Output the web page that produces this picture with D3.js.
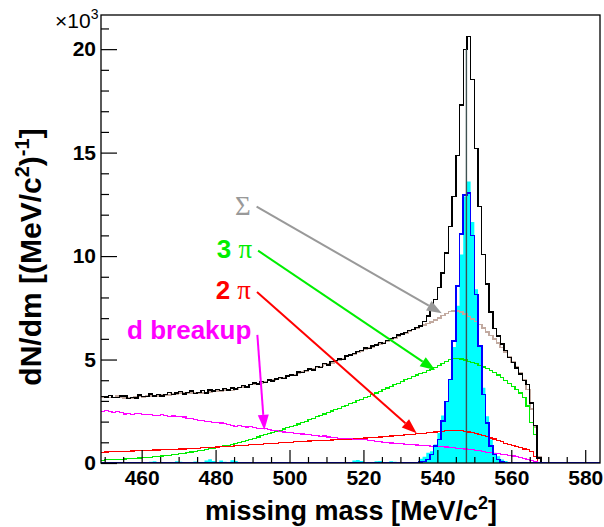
<!DOCTYPE html>
<html><head><meta charset="utf-8">
<script src="https://cdn.jsdelivr.net/npm/d3@7"></script>
<style>body{margin:0;background:#fff}svg{display:block}</style>
</head><body>
<svg id="c" width="604" height="527"></svg>
<script>
// ---------- data (bins of 1 MeV/c^2 starting at 449; values in units of 10^3) ----------
const massStart = 449;
const xTickLabels = [460, 480, 500, 520, 540, 560, 580];
const yTickLabels = [0, 5, 10, 15, 20];
const etaMass = 547.86;

const totalCounts = [
 3.21,3.18,3.25,3.16,3.17,3.23,3.24,3.13,3.16,3.14,
 3.28,3.21,3.20,3.33,3.23,3.30,3.24,3.32,3.41,3.30,
 3.38,3.45,3.33,3.40,3.47,3.36,3.42,3.50,3.39,3.52,
 3.47,3.55,3.50,3.60,3.52,3.63,3.58,3.66,3.75,3.68,
 3.78,3.86,3.82,3.94,3.90,4.02,3.97,4.05,4.14,4.08,
 4.20,4.26,4.22,4.40,4.36,4.48,4.55,4.50,4.66,4.62,
 4.80,4.74,4.90,4.95,5.02,5.00,5.17,5.22,5.30,5.38,
 5.45,5.56,5.52,5.66,5.70,5.82,5.78,5.93,6.02,6.06,
 6.18,6.24,6.30,6.40,6.46,6.55,6.62,6.85,7.10,7.40,
 7.90,8.47,9.18,10.15,11.43,12.88,14.86,17.31,19.97,20.61,
 18.52,15.19,12.40,10.07,8.65,7.30,6.50,6.13,5.75,5.45,
 5.10,4.85,4.60,4.30,4.00,3.80,2.90,1.80,0.25,0
];
const sigmaSum = [
 3.16,3.21,3.17,3.16,3.23,3.19,3.13,3.15,3.13,3.21,
 3.22,3.19,3.24,3.24,3.21,3.25,3.31,3.29,3.30,3.33,
 3.34,3.37,3.37,3.35,3.37,3.37,3.37,3.39,3.41,3.43,
 3.45,3.47,3.49,3.53,3.52,3.51,3.56,3.65,3.66,3.70,
 3.80,3.81,3.84,3.88,3.94,3.98,4.00,4.04,4.09,4.13,
 4.18,4.23,4.27,4.33,4.39,4.45,4.51,4.56,4.63,4.67,
 4.76,4.80,4.84,4.93,4.97,5.04,5.14,5.19,5.27,5.34,
 5.41,5.48,5.55,5.60,5.68,5.75,5.81,5.88,5.97,6.04,
 6.13,6.21,6.29,6.37,6.45,6.53,6.60,6.67,6.75,6.82,
 6.91,7.02,7.12,7.23,7.32,7.35,7.34,7.29,7.20,7.08,
 6.97,6.84,6.70,6.53,6.34,6.17,5.99,5.80,5.58,5.35,
 5.12,4.88,4.63,4.36,4.04,3.55,2.61,1.73,0.30,0
];
const threePi = [
 0.14,0.15,0.16,0.17,0.18,0.18,0.19,0.20,0.21,0.22,
 0.24,0.25,0.27,0.28,0.30,0.32,0.34,0.36,0.38,0.40,
 0.42,0.45,0.47,0.50,0.53,0.56,0.59,0.62,0.65,0.69,
 0.72,0.75,0.78,0.82,0.86,0.90,0.95,1.00,1.05,1.10,
 1.15,1.20,1.26,1.31,1.36,1.41,1.47,1.52,1.58,1.64,
 1.70,1.76,1.82,1.88,1.95,2.02,2.09,2.16,2.23,2.30,
 2.37,2.44,2.51,2.58,2.65,2.72,2.79,2.86,2.94,3.01,
 3.08,3.15,3.23,3.30,3.38,3.46,3.54,3.62,3.70,3.78,
 3.86,3.94,4.02,4.10,4.18,4.25,4.32,4.39,4.46,4.53,
 4.60,4.70,4.80,4.90,5.00,5.05,5.05,5.03,4.98,4.92,
 4.86,4.80,4.73,4.64,4.55,4.46,4.36,4.25,4.12,3.98,
 3.85,3.70,3.55,3.38,3.15,2.75,1.95,1.38,0,0
];
const twoPi = [
 0.52,0.53,0.54,0.54,0.55,0.56,0.57,0.57,0.58,0.59,
 0.60,0.60,0.61,0.62,0.63,0.63,0.64,0.65,0.66,0.66,
 0.67,0.68,0.68,0.69,0.70,0.71,0.72,0.73,0.74,0.75,
 0.76,0.77,0.78,0.79,0.80,0.81,0.83,0.84,0.85,0.86,
 0.88,0.89,0.90,0.91,0.93,0.94,0.95,0.96,0.98,0.99,
 1.00,1.01,1.02,1.03,1.04,1.05,1.06,1.07,1.08,1.09,
 1.09,1.10,1.11,1.12,1.13,1.14,1.15,1.16,1.18,1.19,
 1.20,1.21,1.22,1.23,1.25,1.26,1.27,1.28,1.30,1.31,
 1.33,1.34,1.36,1.37,1.39,1.41,1.42,1.44,1.46,1.48,
 1.50,1.52,1.54,1.56,1.57,1.57,1.57,1.56,1.54,1.50,
 1.46,1.42,1.38,1.33,1.27,1.21,1.16,1.10,1.03,0.96,
 0.90,0.84,0.78,0.73,0.68,0.64,0.55,0.30,0,0
];
const dBreakup = [
 2.50,2.53,2.47,2.45,2.50,2.45,2.37,2.38,2.34,2.40,
 2.38,2.34,2.36,2.34,2.28,2.30,2.33,2.28,2.26,2.27,
 2.25,2.24,2.22,2.16,2.14,2.10,2.06,2.04,2.02,1.99,
 1.97,1.95,1.93,1.92,1.86,1.80,1.78,1.81,1.76,1.74,
 1.77,1.72,1.68,1.66,1.65,1.63,1.58,1.56,1.53,1.50,
 1.48,1.46,1.43,1.42,1.40,1.38,1.36,1.33,1.32,1.28,
 1.30,1.26,1.22,1.23,1.19,1.18,1.20,1.17,1.15,1.14,
 1.13,1.12,1.10,1.07,1.05,1.03,1.00,0.98,0.97,0.95,
 0.94,0.93,0.91,0.90,0.88,0.87,0.86,0.84,0.83,0.81,
 0.81,0.80,0.78,0.77,0.75,0.73,0.72,0.70,0.68,0.66,
 0.65,0.62,0.59,0.56,0.52,0.50,0.47,0.45,0.43,0.41,
 0.37,0.34,0.30,0.25,0.21,0.16,0.11,0.05,0,0
];
const etaSim = [
 0,0,0,0,0,0,0,0,0,0,
 0,0,0,0,0,0,0,0,0,0,
 0,0,0,0,0,0,0,0,0,0,
 0,0,0,0,0,0,0,0,0,0,
 0,0,0,0,0,0,0,0,0,0,
 0,0,0,0,0,0,0,0,0,0,
 0,0,0,0,0,0,0,0,0,0,
 0,0,0,0,0,0,0,0,0,0,
 0,0,0,0,0,0,0.04,0.08,0.17,0.41,
 0.81,1.13,2.02,2.98,4.03,5.90,8.54,11.07,12.95,13.05,
 11.00,8.14,5.64,3.31,1.94,0.81,0.41,0.17,0.05,0.03,
 0,0,0,0,0,0,0,0,0,0
];
const dataMinusBg = [
 0,0,0,0,0,0,0,0,0,0,
 0.05,0.03,0,0.06,0.08,0,0,0,0,0,
 0.09,0.06,0,0,0,0.07,0.04,0,0.12,0.18,
 0.10,0,0.12,0.06,0,0.13,0.10,0,0,0,
 0.05,0,0,0,0,0,0,0,0,0,
 0,0,0,0,0,0,0,0,0,0,
 0,0,0,0,0,0,0,0,0.12,0.15,
 0.10,0.05,0,0,0.08,0.10,0,0,0.08,0.06,
 0,0,0,0.04,0,0,0.20,0.30,0.50,0.57,
 0.89,1.45,2.30,2.95,4.05,5.60,7.60,10.07,12.88,13.60,
 11.65,8.40,5.70,3.64,2.26,1.13,0.50,0.33,0.17,0.10,
 0,0,0,0,0,0,0,0,0,0
];

// ---------- layout ----------
const svg = d3.select('#c');
const F = {l:101, r:600, t:15, b:463};
const xDomain = [449, 584];
const x = d3.scaleLinear().domain(xDomain).range([F.l, F.r]);
const y = d3.scaleLinear().domain([0, 21.65]).range([F.b, F.t]);
const SANS = "'Liberation Sans', Arial, Helvetica, sans-serif";
const SERIF = "'Liberation Serif', 'Times New Roman', serif";

svg.append('rect').attr('width',604).attr('height',527).attr('fill','#fff');
svg.append('defs').append('clipPath').attr('id','clip')
  .append('rect').attr('x',F.l).attr('y',F.t).attr('width',F.r-F.l).attr('height',F.b-F.t);

function stepLine(vals){
  let p = `M${x(massStart)},${y(vals[0])}`;
  vals.forEach((v,i)=>{ p += `V${y(v)}H${x(massStart+i+1)}`; });
  p += `V${y(0)}H${x(xDomain[1])}`;
  return p;
}
function stepArea(vals){
  let p = `M${x(massStart)},${y(0)}`;
  vals.forEach((v,i)=>{ p += `V${y(v)}H${x(massStart+i+1)}`; });
  p += `V${y(0)}Z`;
  return p;
}

const plot = svg.append('g').attr('clip-path','url(#clip)');
plot.append('path').attr('d', stepArea(dataMinusBg)).attr('fill','#00ffff').attr('stroke','none');
const series = [
  {vals: sigmaSum, color:'#c2aaa0', w:1.6},
  {vals: threePi, color:'#00ee00', w:1.2},
  {vals: twoPi, color:'#ff0000', w:1.2},
  {vals: dBreakup, color:'#ff00ff', w:1.2},
  {vals: totalCounts, color:'#000000', w:1.4},
  {vals: etaSim, color:'#0000ff', w:1.6}
];
series.forEach(s=>{
  plot.append('path').attr('d', stepLine(s.vals)).attr('fill','none')
    .attr('stroke', s.color).attr('stroke-width', s.w).attr('shape-rendering','crispEdges');
});
plot.append('line').attr('x1',x(etaMass)).attr('x2',x(etaMass)).attr('y1',y(0)).attr('y2',y(20))
  .attr('stroke','#3f5252').attr('stroke-width',1.4);

// ---------- axes ----------
const yMinor = d3.range(0, 22).filter(v=>v%5!==0);
const xMinor = d3.range(450, 585, 5).filter(v=>v%20!==0);
function styleAxis(g){ g.select('.domain').remove(); g.selectAll('line').attr('stroke','#000').attr('stroke-width',1.2); }
svg.append('g').attr('transform',`translate(${F.l},0)`)
  .call(d3.axisLeft(y).tickValues(yMinor).tickSizeInner(-8).tickSizeOuter(0).tickFormat(''))
  .call(styleAxis);
const gy = svg.append('g').attr('transform',`translate(${F.l},0)`)
  .call(d3.axisLeft(y).tickValues(yTickLabels).tickSizeInner(-16).tickSizeOuter(0).tickPadding(5).tickFormat(d3.format('d')))
  .call(styleAxis);
gy.selectAll('text').attr('font-family',SANS).attr('font-weight','bold').attr('font-size',21).attr('fill','#000');
svg.append('g').attr('transform',`translate(0,${F.b})`)
  .call(d3.axisBottom(x).tickValues(xMinor).tickSizeInner(-6).tickSizeOuter(0).tickFormat(''))
  .call(styleAxis);
const gx = svg.append('g').attr('transform',`translate(0,${F.b})`)
  .call(d3.axisBottom(x).tickValues(xTickLabels).tickSizeInner(-13).tickSizeOuter(0).tickPadding(7).tickFormat(d3.format('d')))
  .call(styleAxis);
gx.selectAll('text').attr('font-family',SANS).attr('font-weight','bold').attr('font-size',21).attr('fill','#000');

svg.append('rect').attr('x',F.l).attr('y',F.t).attr('width',F.r-F.l).attr('height',F.b-F.t)
  .attr('fill','none').attr('stroke','#000').attr('stroke-width',1.3);

// exponent label
const ex = svg.append('text').attr('x',55).attr('y',28).attr('font-family',SANS).attr('font-size',21).attr('fill','#000');
ex.append('tspan').text('\u00d710');
ex.append('tspan').attr('dy',-9).attr('font-size',14).text('3');

// axis titles
const xt = svg.append('text').attr('x',351).attr('y',520).attr('text-anchor','middle')
  .attr('font-family',SANS).attr('font-weight','bold').attr('font-size',27).attr('fill','#000');
xt.append('tspan').text('missing mass [MeV/c');
xt.append('tspan').attr('dy',-11).attr('font-size',18).text('2');
xt.append('tspan').attr('dy',11).text(']');

const yt = svg.append('text').attr('transform','translate(41,257) rotate(-90)').attr('text-anchor','middle')
  .attr('font-family',SANS).attr('font-weight','bold').attr('font-size',30).attr('fill','#000');
yt.append('tspan').text('dN/dm [(MeV/c');
yt.append('tspan').attr('dy',-12).attr('font-size',20).text('2');
yt.append('tspan').attr('dy',12).text(')');
yt.append('tspan').attr('dy',-12).attr('font-size',20).text('-1');
yt.append('tspan').attr('dy',12).text(']');

// ---------- annotations (arrows in data coordinates) ----------
const annotations = [
  {from:[491.1,12.39], to:[541.2,7.24], color:'#999999', label:[{t:'\u03a3', serif:true}], dy:8},
  {from:[491.5,10.26], to:[539.4,4.49], color:'#00ee00', label:[{t:'3 ', serif:false},{t:'\u03c0', serif:true}], dy:7},
  {from:[491.2,8.26], to:[534.4,1.44], color:'#ff0000', label:[{t:'2 ', serif:false},{t:'\u03c0', serif:true}], dy:7},
  {from:[491.3,6.19], to:[493.2,1.60], color:'#ff00ff', label:[{t:'d breakup', serif:false}], dy:4}
];
annotations.forEach(a=>{
  const x1=x(a.from[0]), y1=y(a.from[1]), x2=x(a.to[0]), y2=y(a.to[1]);
  const ang=Math.atan2(y2-y1,x2-x1), L=15, hw=5.5;
  const bx=x2-L*Math.cos(ang), by=y2-L*Math.sin(ang);
  svg.append('line').attr('x1',x1).attr('y1',y1).attr('x2',bx).attr('y2',by)
    .attr('stroke',a.color).attr('stroke-width',2);
  svg.append('path').attr('d',`M${x2},${y2}L${bx-hw*Math.sin(ang)},${by+hw*Math.cos(ang)}L${bx+hw*Math.sin(ang)},${by-hw*Math.cos(ang)}Z`)
    .attr('fill',a.color);
  const t = svg.append('text').attr('x',x1-6).attr('y',y1+a.dy).attr('text-anchor','end').attr('fill',a.color);
  a.label.forEach(p=>{
    t.append('tspan').text(p.t)
      .attr('font-family', p.serif?SERIF:SANS)
      .attr('font-weight', p.serif?'normal':'bold')
      .attr('font-size', p.serif?27:26);
  });
});
</script>
</body></html>
